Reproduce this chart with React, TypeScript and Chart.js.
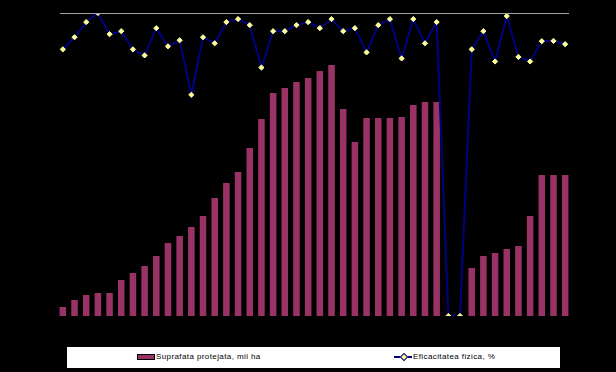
import React, { useEffect, useRef } from "react";
import { Chart, registerables } from "chart.js";

Chart.register(...registerables);

const categories: string[] = Array.from({ length: 44 }, (_, i) => String(i + 1));

const suprafata: number[] = [
  9, 16, 21, 23, 23, 36, 43, 50, 60, 73, 80, 89, 100, 118, 133, 144, 168, 197, 223, 228, 234, 238,
  245, 251, 207, 174, 198, 198, 198, 199, 211, 214, 214, 0, 0, 48, 60, 63, 67, 70, 100, 141, 141, 141,
];

const eficacitatea: number[] = [
  88, 92, 97, 100, 93, 94, 88, 86, 95, 89, 91, 73, 92, 90, 97, 98, 96, 82, 94, 94, 96, 97, 95, 98,
  94, 95, 87, 96, 98, 85, 98, 90, 97, 0, 0, 88, 94, 84, 99, 85.5, 84, 90.7, 90.8, 89.7,
];

const legendLabels: string[] = ["Suprafata protejata, mii ha", "Eficacitatea fizica, %"];

const BAR_COLOR = "#993366";
const LINE_COLOR = "#000080";
const MARKER_COLOR = "#ffff99";

const topLinePlugin = {
  id: "topLine",
  afterDatasetsDraw(chart: any) {
    const { ctx, chartArea, scales } = chart;
    const y = Math.round(scales.y.getPixelForValue(100)) + 0.5;
    ctx.save();
    ctx.strokeStyle = "#a0a0a0";
    ctx.lineWidth = 1;
    ctx.beginPath();
    ctx.moveTo(chartArea.left + 3, y);
    ctx.lineTo(chartArea.right - 2, y);
    ctx.stroke();
    ctx.restore();
  },
};

export default function App() {
  const canvasRef = useRef<HTMLCanvasElement | null>(null);

  useEffect(() => {
    document.body.style.margin = "0";
    document.body.style.background = "#000";
    if (!canvasRef.current) return;
    const chart = new Chart(canvasRef.current, {
      data: {
        labels: categories,
        datasets: [
          {
            type: "line",
            label: legendLabels[1],
            data: eficacitatea,
            yAxisID: "y",
            borderColor: LINE_COLOR,
            borderWidth: 2,
            pointStyle: "rectRot",
            pointRadius: 2.6,
            pointBackgroundColor: MARKER_COLOR,
            pointBorderColor: MARKER_COLOR,
            pointBorderWidth: 1,
            tension: 0,
            order: 0,
          },
          {
            type: "bar",
            label: legendLabels[0],
            data: suprafata,
            yAxisID: "y2",
            backgroundColor: BAR_COLOR,
            borderWidth: 0,
            barPercentage: 0.56,
            categoryPercentage: 1,
            order: 1,
          },
        ],
      } as any,
      options: {
        animation: false,
        responsive: false,
        maintainAspectRatio: false,
        layout: { padding: { left: 57, right: 45, top: 13, bottom: 56 } },
        plugins: { legend: { display: false }, tooltip: { enabled: false } },
        scales: {
          x: { type: "category", display: false, offset: true },
          y: { display: false, min: 0, max: 100 },
          y2: { display: false, min: 0, max: 303 },
        },
      },
      plugins: [topLinePlugin],
    });
    return () => chart.destroy();
  }, []);

  const textStyle: React.CSSProperties = {
    position: "absolute",
    top: 352,
    fontFamily: "Arial, 'Liberation Sans', sans-serif",
    fontSize: 8,
    lineHeight: "10px",
    color: "#000",
    whiteSpace: "nowrap",
  };

  return (
    <div style={{ position: "relative", width: 616, height: 372, background: "#000", overflow: "hidden" }}>
      <canvas ref={canvasRef} width={616} height={372} style={{ position: "absolute", left: 0, top: 0 }} />
      <div style={{ position: "absolute", left: 67, top: 347, width: 493, height: 21, background: "#fff" }} />
      <div
        style={{
          position: "absolute",
          left: 137,
          top: 354,
          width: 16,
          height: 4,
          background: BAR_COLOR,
          border: "1px solid #000",
        }}
      />
      <div style={{ ...textStyle, left: 156, letterSpacing: "0.4px" }}>{legendLabels[0]}</div>
      <div style={{ position: "absolute", left: 394, top: 356, width: 18, height: 2, background: LINE_COLOR }} />
      <div
        style={{
          position: "absolute",
          left: 401,
          top: 354,
          width: 4,
          height: 4,
          background: MARKER_COLOR,
          border: "1px solid " + LINE_COLOR,
          transform: "rotate(45deg)",
        }}
      />
      <div style={{ ...textStyle, left: 413, letterSpacing: "0.4px" }}>{legendLabels[1]}</div>
    </div>
  );
}
